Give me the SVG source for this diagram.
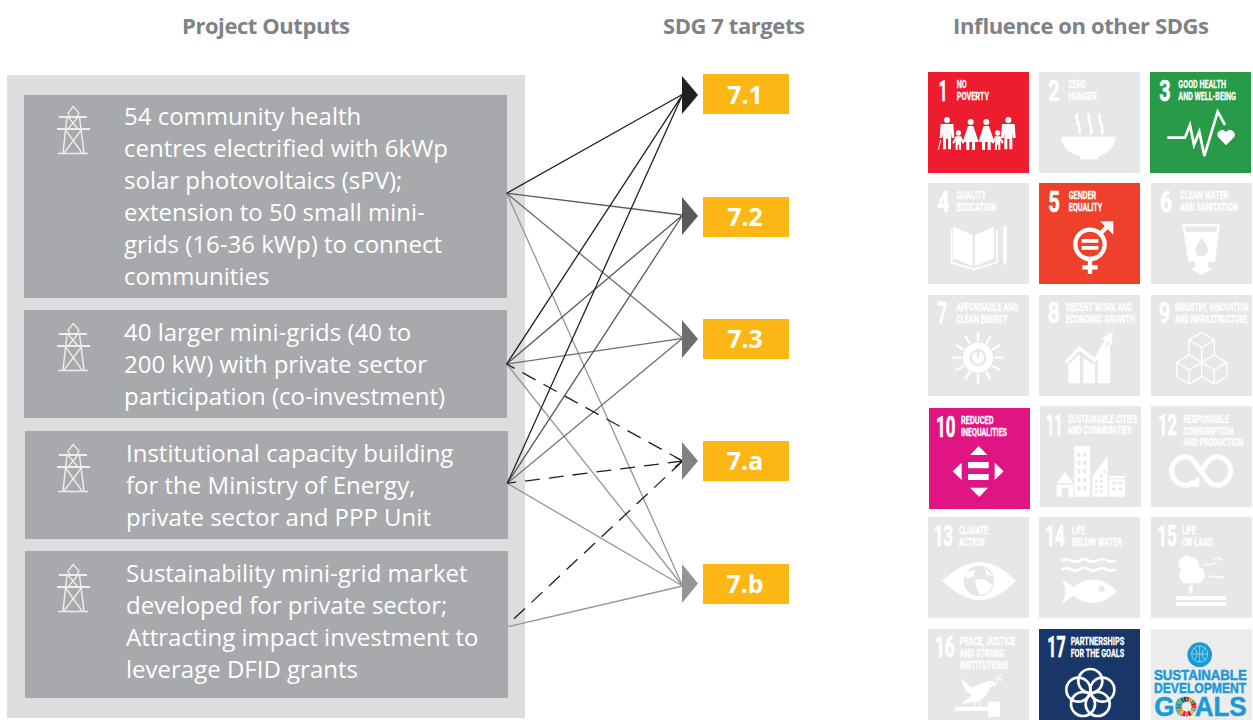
<svg xmlns="http://www.w3.org/2000/svg" xmlns:xlink="http://www.w3.org/1999/xlink" width="1253" height="720" viewBox="0 0 1253 720">
<style>
.h{font:700 22px "Open Sans",sans-serif;fill:#808285}
.b{font:400 24px "Open Sans",sans-serif;fill:#fff}
.a{font:700 25px "Open Sans",sans-serif;fill:#fff;text-anchor:middle}
.box{fill:#a7a9ac}
.amber{fill:#fdb714}
.g{fill:#e6e7e8}
.n{font:700 86px "Roboto",sans-serif;fill:#fff;stroke:#fff;stroke-width:2}
.t{font:700 34px "Roboto",sans-serif;fill:#fff;stroke:#fff;stroke-width:.8}
.w{fill:#fff}
.s{fill:none;stroke:#fff}
.l{fill:none;stroke-width:1.3}
.d{fill:none;stroke:#231f20;stroke-width:1.3;stroke-dasharray:15 9}
.c1{stroke:#231f20}.c2{stroke:#58595b}.c3{stroke:#6d6e71}.c4{stroke:#939598}
.sd{font:700 46px "Liberation Sans",sans-serif;fill:#1b9ad6;stroke:#1b9ad6;stroke-width:1.5}
</style>
<defs>
<g id="tower" fill="none" stroke="#eceded" stroke-width="1.3">
<path d="M73.3 106.5L68 113L70 117H77L79 113Z"/>
<path d="M59 117H87M57 129H90" stroke-width="2"/>
<path d="M67 117L63 153M79.500 117L84 153M58 153.500H88" stroke-width="1.500"/>
<path d="M68 117L78 129M78 117L68 129M65 129L82 153M82 129L64 153"/>
</g>
<g id="man"><circle cx="0" cy="-50" r="9"/><path d="M-19-38H19L22 4H14L12-12V38H3V6H-3V38H-12V-12L-14 4H-22Z"/></g>
<g id="woman"><circle cx="0" cy="-46" r="9"/><path d="M-8-34H8L24 14H13V38H4V14H-4V38H-13V14H-24Z"/></g>
<g id="kid"><circle cx="0" cy="-21" r="8"/><path d="M-8-11H8L18 8L13 11L8 2V29H2V14H-2V29H-8V2L-13 11L-18 8Z"/></g>
</defs>

<g id="headings">
<text class="h" x="182" y="34" textLength="168">Project Outputs</text>
<text class="h" x="663" y="34" textLength="142">SDG 7 targets</text>
<text class="h" x="953" y="34" textLength="256">Influence on other SDGs</text>
</g>

<rect id="panel" x="7" y="75" width="518" height="643" fill="#dcddde"/>

<g id="output-1">
<rect class="box" x="24" y="95" width="483" height="203"/>
<use xlink:href="#tower" href="#tower"/>
<text class="b" x="124" y="125">54 community health</text>
<text class="b" x="124" y="156.500">centres electrified with 6kWp</text>
<text class="b" x="124" y="188.500">solar photovoltaics (sPV);</text>
<text class="b" x="124" y="221">extension to 50 small mini-</text>
<text class="b" x="124" y="253">grids (16-36 kWp) to connect</text>
<text class="b" x="124" y="285">communities</text>
</g>
<g id="output-2">
<rect class="box" x="24" y="310" width="483" height="108"/>
<use xlink:href="#tower" href="#tower" y="217"/>
<text class="b" x="124" y="341">40 larger mini-grids (40 to</text>
<text class="b" x="124" y="373">200 kW) with private sector</text>
<text class="b" x="124" y="405">participation (co-investment)</text>
</g>
<g id="output-3">
<rect class="box" x="25" y="431" width="483" height="108"/>
<use xlink:href="#tower" href="#tower" y="338"/>
<text class="b" x="126" y="462">Institutional capacity building</text>
<text class="b" x="126" y="494">for the Ministry of Energy,</text>
<text class="b" x="126" y="526">private sector and PPP Unit</text>
</g>
<g id="output-4">
<rect class="box" x="25" y="551" width="483" height="147"/>
<use xlink:href="#tower" href="#tower" y="458"/>
<text class="b" x="126" y="582">Sustainability mini-grid market</text>
<text class="b" x="126" y="614">developed for private sector;</text>
<text class="b" x="126" y="646">Attracting impact investment to</text>
<text class="b" x="126" y="678">leverage DFID grants</text>
</g>

<g id="connectors">
<path class="l c4" d="M506.700 193.300L682.700 586M506.700 364L682.700 586M507.300 483.300L682.700 586M508.300 626.700L682.700 586"/>
<path class="l c3" d="M506.700 193.300L682.700 338.300M506.700 364L682.700 338.300M507.300 483.300L682.700 338.300"/>
<path class="l c2" d="M506.700 193.300L682.700 215M506.700 364L682.700 215M507.300 483.300L682.700 215"/>
<path class="l c1" d="M506.700 193.300L682.700 94.300M506.700 364L682.700 94.300M507.300 483.300L682.700 94.300"/>
<path class="d" d="M682.700 461L506.700 364M682.700 461L507.300 483.300M682.700 461L507.300 625"/>
<path class="l c1" d="M675 457L682.700 461L675 467"/>
<polygon points="682,76 698,95 682,114" fill="#231f20"/>
<polygon points="682,197 698,216 682,235" fill="#58595b"/>
<polygon points="682,320 698,339 682,358" fill="#6d6e71"/>
<polygon points="682,442 698,461 682,480" fill="#808285"/>
<polygon points="682,564 698,583.500 682,603" fill="#939598"/>
</g>

<g id="target-7-1"><rect class="amber" x="703" y="74" width="86" height="40"/><text class="a" x="745" y="104">7.1</text></g>
<g id="target-7-2"><rect class="amber" x="703" y="197" width="86" height="40"/><text class="a" x="745" y="226">7.2</text></g>
<g id="target-7-3"><rect class="amber" x="703" y="319" width="86" height="40"/><text class="a" x="745" y="348">7.3</text></g>
<g id="target-7-a"><rect class="amber" x="703" y="441" width="86" height="40"/><text class="a" x="745" y="470">7.a</text></g>
<g id="target-7-b"><rect class="amber" x="703" y="564" width="86" height="40"/><text class="a" x="745" y="593">7.b</text></g>

<g id="sdg-1" transform="translate(920 60) scale(.33333)">
<rect x="24" y="36" width="303" height="303" fill="#ed1c2e"/>
<text class="n" transform="translate(56 122) scale(.6 1)" textLength="43" lengthAdjust="spacingAndGlyphs">1</text>
<text class="t" transform="translate(110 85) scale(.6 1)" textLength="50" lengthAdjust="spacingAndGlyphs">NO</text>
<text class="t" transform="translate(110 120) scale(.6 1)" textLength="162" lengthAdjust="spacingAndGlyphs">POVERTY</text>
<g class="w"><use xlink:href="#man" href="#man" x="81" y="230"/><use xlink:href="#kid" href="#kid" x="115" y="240"/><use xlink:href="#woman" href="#woman" x="152" y="232"/><use xlink:href="#woman" href="#woman" x="199" y="232"/><use xlink:href="#kid" href="#kid" x="233" y="240"/><use xlink:href="#man" href="#man" x="265" y="230"/></g>
<path class="s" stroke-width="3" d="M62 240L55 270"/>
</g>
<g id="sdg-2" transform="translate(920 60) scale(.33333)">
<rect class="g" x="357" y="36" width="303" height="303"/>
<text class="n" transform="translate(385 122) scale(.6 1)" textLength="57" lengthAdjust="spacingAndGlyphs">2</text>
<text class="t" transform="translate(445 85) scale(.6 1)" textLength="87" lengthAdjust="spacingAndGlyphs">ZERO</text>
<text class="t" transform="translate(445 120) scale(.6 1)" textLength="142" lengthAdjust="spacingAndGlyphs">HUNGER</text>
<path class="w" d="M423 230H588C585 262 560 283 535 288V298H480V288C450 283 427 262 423 230Z"/>
<path class="s" stroke-width="8" d="M472 160C462 180 485 195 478 222M508 160C498 180 520 195 513 222M540 160C530 180 553 195 546 222"/>
</g>
<g id="sdg-3" transform="translate(920 60) scale(.33333)">
<rect x="690" y="36" width="303" height="303" fill="#279b48"/>
<text class="n" transform="translate(718 122) scale(.6 1)" textLength="57" lengthAdjust="spacingAndGlyphs">3</text>
<text class="t" transform="translate(775 85) scale(.6 1)" textLength="238" lengthAdjust="spacingAndGlyphs">GOOD HEALTH</text>
<text class="t" transform="translate(775 120) scale(.6 1)" textLength="288" lengthAdjust="spacingAndGlyphs">AND WELL-BEING</text>
<path class="s" stroke-width="8" d="M742 233H795L810 195L822 255L838 215L853 288L893 155L915 195"/>
<path class="w" d="M918 256L895 232C885 218 905 200 918 216C931 200 952 218 942 232Z"/>
</g>
<g id="sdg-4" transform="translate(920 60) scale(.33333)">
<rect class="g" x="24" y="369" width="303" height="303"/>
<text class="n" transform="translate(52 456) scale(.6 1)" textLength="62" lengthAdjust="spacingAndGlyphs">4</text>
<text class="t" transform="translate(110 418) scale(.6 1)" textLength="147" lengthAdjust="spacingAndGlyphs">QUALITY</text>
<text class="t" transform="translate(110 453) scale(.6 1)" textLength="198" lengthAdjust="spacingAndGlyphs">EDUCATION</text>
<path class="w" d="M100 500L158 525V618L100 595ZM165 525L222 500V595L165 618Z"/>
<path class="s" stroke-width="5" d="M95 510V608L161 628L230 608V510"/>
<path class="w" d="M249 505A6 6 0 0 1 261 505V600L255 620L249 600Z"/>
</g>
<g id="sdg-5" transform="translate(920 60) scale(.33333)">
<rect x="357" y="369" width="303" height="303" fill="#ef402b"/>
<text class="n" transform="translate(385 456) scale(.6 1)" textLength="58" lengthAdjust="spacingAndGlyphs">5</text>
<text class="t" transform="translate(446 418) scale(.6 1)" textLength="137" lengthAdjust="spacingAndGlyphs">GENDER</text>
<text class="t" transform="translate(446 453) scale(.6 1)" textLength="168" lengthAdjust="spacingAndGlyphs">EQUALITY</text>
<circle class="s" stroke-width="13" cx="510" cy="553" r="44"/>
<path class="s" stroke-width="13" d="M510 597V642M487 622H533M540 522L572 490"/>
<path class="w" d="M540 484H580V524Z"/>
<path class="w" d="M485 537H535V548H485ZM485 558H535V569H485Z"/>
</g>
<g id="sdg-6" transform="translate(920 60) scale(.33333)">
<rect class="g" x="693" y="369" width="303" height="303"/>
<text class="n" transform="translate(721 456) scale(.6 1)" textLength="58" lengthAdjust="spacingAndGlyphs">6</text>
<text class="t" transform="translate(780 418) scale(.6 1)" textLength="242" lengthAdjust="spacingAndGlyphs">CLEAN WATER</text>
<text class="t" transform="translate(780 453) scale(.6 1)" textLength="290" lengthAdjust="spacingAndGlyphs">AND SANITATION</text>
<path class="w" d="M787 492H900L885 605H865V625H880L845 645L810 625H825V605H805Z"/>
<path class="g" d="M795 500H892L889 515H798Z"/>
<path class="g" d="M845 532C835 550 826 560 826 570A19 19 0 0 0 864 570C864 560 855 550 845 532Z"/>
</g>

<g id="sdg-7" transform="translate(920 285) scale(.33333)">
<rect class="g" x="24" y="30" width="303" height="303"/>
<text class="n" transform="translate(52 115) scale(.6 1)" textLength="50" lengthAdjust="spacingAndGlyphs">7</text>
<text class="t" transform="translate(109 79) scale(.6 1)" textLength="310" lengthAdjust="spacingAndGlyphs">AFFORDABLE AND</text>
<text class="t" transform="translate(109 114) scale(.6 1)" textLength="255" lengthAdjust="spacingAndGlyphs">CLEAN ENERGY</text>
<circle class="w" cx="174" cy="218" r="45"/>
<path class="s" stroke-width="7" d="M174 143V170M174 266V295M98 218H125M223 218H250M136 153L150 177M198 259L212 283M108 180L132 194M216 242L240 256M108 256L132 242M216 194L240 180M136 283L150 259M198 177L212 153"/>
<circle cx="174" cy="218" r="22" fill="none" stroke="#e6e7e8" stroke-width="7"/>
<path d="M174 190V218" stroke="#e6e7e8" stroke-width="7"/>
</g>
<g id="sdg-8" transform="translate(920 285) scale(.33333)">
<rect class="g" x="357" y="30" width="303" height="303"/>
<text class="n" transform="translate(383 115) scale(.6 1)" textLength="60" lengthAdjust="spacingAndGlyphs">8</text>
<text class="t" transform="translate(437 79) scale(.6 1)" textLength="333" lengthAdjust="spacingAndGlyphs">DECENT WORK AND</text>
<text class="t" transform="translate(437 114) scale(.6 1)" textLength="347" lengthAdjust="spacingAndGlyphs">ECONOMIC GROWTH</text>
<path class="w" d="M445 238L480 208V295H445ZM490 220L525 240V295H490ZM533 205L570 175V295H533Z"/>
<path class="s" stroke-width="10" d="M437 233L478 190L525 226L570 150"/>
<path class="w" d="M578 140L576 178L545 160Z"/>
</g>
<g id="sdg-9" transform="translate(920 285) scale(.33333)">
<rect class="g" x="693" y="30" width="303" height="303"/>
<text class="n" transform="translate(716 115) scale(.6 1)" textLength="57" lengthAdjust="spacingAndGlyphs">9</text>
<text class="t" transform="translate(765 79) scale(.6 1)" textLength="368" lengthAdjust="spacingAndGlyphs">INDUSTRY, INNOVATION</text>
<text class="t" transform="translate(765 114) scale(.6 1)" textLength="362" lengthAdjust="spacingAndGlyphs">AND INFRASTRUCTURE</text>
<path class="s" stroke-width="4" stroke-linejoin="round" d="M845 142L883 165V210L845 232L807 210V165ZM807 165L845 187L883 165M845 187V232M807 210L845 232V275L807 297L770 275V232ZM770 232L807 255L845 232M807 255V297M883 210L920 232V275L883 297L845 275M845 232L883 255L920 232M883 255V297"/>
</g>
<g id="sdg-10" transform="translate(920 285) scale(.33333)">
<rect x="27" y="369" width="303" height="303" fill="#e11484"/>
<text class="n" transform="translate(48 455) scale(.6 1)" textLength="97" lengthAdjust="spacingAndGlyphs">10</text>
<text class="t" transform="translate(123 417) scale(.6 1)" textLength="163" lengthAdjust="spacingAndGlyphs">REDUCED</text>
<text class="t" transform="translate(123 453) scale(.6 1)" textLength="230" lengthAdjust="spacingAndGlyphs">INEQUALITIES</text>
<path class="w" d="M176 483L150 510H202ZM150 608H204L178 636ZM125 533V585L98 559ZM224 533V585L251 559ZM144 531H206V550H144ZM144 567H206V585H144Z"/>
</g>
<g id="sdg-11" transform="translate(920 285) scale(.33333)">
<rect class="g" x="360" y="363" width="303" height="303"/>
<text class="n" transform="translate(378 449) scale(.6 1)" textLength="82" lengthAdjust="spacingAndGlyphs">11</text>
<text class="t" transform="translate(443 413) scale(.6 1)" textLength="347" lengthAdjust="spacingAndGlyphs">SUSTAINABLE CITIES</text>
<text class="t" transform="translate(443 448) scale(.6 1)" textLength="318" lengthAdjust="spacingAndGlyphs">AND COMMUNITIES</text>
<path class="w" d="M463 483H510V635H463ZM517 575L563 512V635H517ZM410 595L435 560L460 595ZM410 599H460V635H445V610H425V635H410ZM567 573H615V635H567Z"/>
<path class="g" d="M472 503h9v12h-9zM490 503h9v12h-9zM472 528h9v12h-9zM490 528h9v12h-9zM472 553h9v12h-9zM490 553h9v12h-9zM472 578h9v12h-9zM490 578h9v12h-9zM472 603h9v12h-9zM490 603h9v12h-9zM525 585h8v8h-8zM540 585h8v8h-8zM540 570h8v8h-8zM525 600h8v8h-8zM540 600h8v8h-8zM525 615h8v8h-8zM540 615h8v8h-8zM550 555h6v8h-6zM575 590h12v8h-12zM595 590h12v8h-12zM575 608h12v8h-12zM595 608h12v8h-12zM567 580h48v3h-48z"/>
</g>
<g id="sdg-12" transform="translate(920 285) scale(.33333)">
<rect class="g" x="693" y="363" width="303" height="303"/>
<text class="n" transform="translate(714 449) scale(.6 1)" textLength="95" lengthAdjust="spacingAndGlyphs">12</text>
<text class="t" transform="translate(790 413) scale(.6 1)" textLength="228" lengthAdjust="spacingAndGlyphs">RESPONSIBLE</text>
<text class="t" transform="translate(790 449) scale(.6 1)" textLength="250" lengthAdjust="spacingAndGlyphs">CONSUMPTION</text>
<text class="t" transform="translate(790 484) scale(.6 1)" textLength="300" lengthAdjust="spacingAndGlyphs">AND PRODUCTION</text>
<path class="s" stroke-width="15" d="M843 558C822 530 815 515 797 515C774 515 755 535 755 558C755 581 774 601 797 601C808 601 815 597 822 590M843 558C864 530 871 515 890 515C913 515 932 535 932 558C932 581 913 601 890 601C871 601 864 586 843 558Z"/>
<path class="w" d="M838 572V606L804 603Z"/>
</g>

<g id="sdg-13" transform="translate(920 505) scale(.33333)">
<rect class="g" x="24" y="36" width="303" height="303"/>
<text class="n" transform="translate(41 122) scale(.6 1)" textLength="97" lengthAdjust="spacingAndGlyphs">13</text>
<text class="t" transform="translate(116 87) scale(.6 1)" textLength="147" lengthAdjust="spacingAndGlyphs">CLIMATE</text>
<text class="t" transform="translate(116 122) scale(.6 1)" textLength="130" lengthAdjust="spacingAndGlyphs">ACTION</text>
<path class="w" d="M65 228C110 190 140 172 177 172C215 172 250 190 288 228C250 265 215 285 177 285C140 285 110 265 65 228Z"/>
<circle class="g" cx="177" cy="228" r="46"/>
<path class="w" d="M135 200L165 195L160 215L140 220ZM165 225L190 222L218 240L205 262L180 270L170 250ZM195 190L218 210L200 212Z"/>
</g>
<g id="sdg-14" transform="translate(920 505) scale(.33333)">
<rect class="g" x="357" y="36" width="303" height="303"/>
<text class="n" transform="translate(376 122) scale(.6 1)" textLength="97" lengthAdjust="spacingAndGlyphs">14</text>
<text class="t" transform="translate(455 87) scale(.6 1)" textLength="68" lengthAdjust="spacingAndGlyphs">LIFE</text>
<text class="t" transform="translate(455 122) scale(.6 1)" textLength="252" lengthAdjust="spacingAndGlyphs">BELOW WATER</text>
<path class="s" stroke-width="8" d="M425 168Q438 158 452 166T479 166T506 166T533 166T560 166T588 166M425 195Q438 185 452 193T479 193T506 193T533 193T560 193T588 193"/>
<path class="w" d="M425 222L462 247C490 215 550 212 590 258C550 305 490 300 462 272L425 297C440 270 440 250 425 222Z"/>
<circle class="g" cx="545" cy="252" r="9"/>
</g>
<g id="sdg-15" transform="translate(920 505) scale(.33333)">
<rect class="g" x="693" y="36" width="303" height="303"/>
<text class="n" transform="translate(712 122) scale(.6 1)" textLength="97" lengthAdjust="spacingAndGlyphs">15</text>
<text class="t" transform="translate(786 87) scale(.6 1)" textLength="68" lengthAdjust="spacingAndGlyphs">LIFE</text>
<text class="t" transform="translate(786 122) scale(.6 1)" textLength="157" lengthAdjust="spacingAndGlyphs">ON LAND</text>
<path class="w" d="M815 157A22 22 0 0 1 836 185A26 26 0 0 1 835 235H795A24 24 0 0 1 785 195A22 22 0 0 1 815 157ZM808 240H818V265H808ZM768 273H918V285H768ZM768 291H918V303H768Z"/>
<path class="s" stroke-width="4" d="M850 182Q868 172 872 180Q880 172 888 174M880 165Q895 155 898 162Q904 158 910 168M865 218Q885 208 890 218Q900 210 912 220"/>
</g>
<g id="sdg-16" transform="translate(920 505) scale(.33333)">
<rect class="g" x="24" y="372" width="303" height="273"/>
<text class="n" transform="translate(45 457) scale(.6 1)" textLength="98" lengthAdjust="spacingAndGlyphs">16</text>
<text class="t" transform="translate(119 421) scale(.6 1)" textLength="278" lengthAdjust="spacingAndGlyphs">PEACE, JUSTICE</text>
<text class="t" transform="translate(119 456) scale(.6 1)" textLength="223" lengthAdjust="spacingAndGlyphs">AND STRONG</text>
<text class="t" transform="translate(119 491) scale(.6 1)" textLength="242" lengthAdjust="spacingAndGlyphs">INSTITUTIONS</text>
<path class="w" d="M122 518L155 548L200 530Q215 525 228 535L208 550Q200 578 172 590L125 596L155 570Q130 560 122 518ZM105 605H205V618H105ZM205 590H240V635H205Z"/>
<path class="s" stroke-width="3" d="M220 545L246 506M165 590V606M178 588V606"/>
<path class="w" d="M228 525L236 512L234 530ZM240 525L248 516L246 530Z"/>
</g>
<g id="sdg-17" transform="translate(920 505) scale(.33333)">
<rect x="357" y="372" width="303" height="273" fill="#183668"/>
<text class="n" transform="translate(382 457) scale(.6 1)" textLength="92" lengthAdjust="spacingAndGlyphs">17</text>
<text class="t" transform="translate(452 421) scale(.6 1)" textLength="268" lengthAdjust="spacingAndGlyphs">PARTNERSHIPS</text>
<text class="t" transform="translate(452 456) scale(.6 1)" textLength="267" lengthAdjust="spacingAndGlyphs">FOR THE GOALS</text>
<g class="s" stroke-width="8"><circle cx="511" cy="528" r="36"/><circle cx="547" cy="554" r="36"/><circle cx="533" cy="597" r="36"/><circle cx="489" cy="597" r="36"/><circle cx="475" cy="554" r="36"/></g>
</g>
<g id="sdg-logo" transform="translate(920 505) scale(.33333)">
<rect x="693" y="372" width="303" height="273" fill="#ececed"/>
<circle cx="839" cy="449" r="37" fill="#1b9ad6"/>
<circle cx="839" cy="447" r="24" fill="none" stroke="#fff" stroke-width="1.500"/>
<path d="M839 423V471M815 447H863M823 429Q839 447 823 465M855 429Q839 447 855 465" fill="none" stroke="#fff" stroke-width="1.500"/>
<text class="sd" transform="translate(702 524) scale(.83 1)" textLength="335" lengthAdjust="spacingAndGlyphs">SUSTAINABLE</text>
<text class="sd" transform="translate(702 565) scale(.83 1)" textLength="333" lengthAdjust="spacingAndGlyphs">DEVELOPMENT</text>
<text class="sd" style="font-size:82px" x="703" y="633" textLength="277" lengthAdjust="spacingAndGlyphs">GOALS</text>
<circle cx="800" cy="605" r="30" fill="#ececed"/>
<g fill="none" stroke-width="15" transform="rotate(-90 800 605)">
<circle cx="800" cy="605" r="22" pathLength="17" stroke-dasharray=".9 16.100" stroke-dashoffset="0" stroke="#e5243b"/>
<circle cx="800" cy="605" r="22" pathLength="17" stroke-dasharray=".9 16.100" stroke-dashoffset="-1" stroke="#dda63a"/>
<circle cx="800" cy="605" r="22" pathLength="17" stroke-dasharray=".9 16.100" stroke-dashoffset="-2" stroke="#4c9f38"/>
<circle cx="800" cy="605" r="22" pathLength="17" stroke-dasharray=".9 16.100" stroke-dashoffset="-3" stroke="#c5192d"/>
<circle cx="800" cy="605" r="22" pathLength="17" stroke-dasharray=".9 16.100" stroke-dashoffset="-4" stroke="#ff3a21"/>
<circle cx="800" cy="605" r="22" pathLength="17" stroke-dasharray=".9 16.100" stroke-dashoffset="-5" stroke="#26bde2"/>
<circle cx="800" cy="605" r="22" pathLength="17" stroke-dasharray=".9 16.100" stroke-dashoffset="-6" stroke="#fcc30b"/>
<circle cx="800" cy="605" r="22" pathLength="17" stroke-dasharray=".9 16.100" stroke-dashoffset="-7" stroke="#a21942"/>
<circle cx="800" cy="605" r="22" pathLength="17" stroke-dasharray=".9 16.100" stroke-dashoffset="-8" stroke="#fd6925"/>
<circle cx="800" cy="605" r="22" pathLength="17" stroke-dasharray=".9 16.100" stroke-dashoffset="-9" stroke="#dd1367"/>
<circle cx="800" cy="605" r="22" pathLength="17" stroke-dasharray=".9 16.100" stroke-dashoffset="-10" stroke="#fd9d24"/>
<circle cx="800" cy="605" r="22" pathLength="17" stroke-dasharray=".9 16.100" stroke-dashoffset="-11" stroke="#bf8b2e"/>
<circle cx="800" cy="605" r="22" pathLength="17" stroke-dasharray=".9 16.100" stroke-dashoffset="-12" stroke="#3f7e44"/>
<circle cx="800" cy="605" r="22" pathLength="17" stroke-dasharray=".9 16.100" stroke-dashoffset="-13" stroke="#0a97d9"/>
<circle cx="800" cy="605" r="22" pathLength="17" stroke-dasharray=".9 16.100" stroke-dashoffset="-14" stroke="#56c02b"/>
<circle cx="800" cy="605" r="22" pathLength="17" stroke-dasharray=".9 16.100" stroke-dashoffset="-15" stroke="#00689d"/>
<circle cx="800" cy="605" r="22" pathLength="17" stroke-dasharray=".9 16.100" stroke-dashoffset="-16" stroke="#19486a"/>
</g>
</g>
</svg>
